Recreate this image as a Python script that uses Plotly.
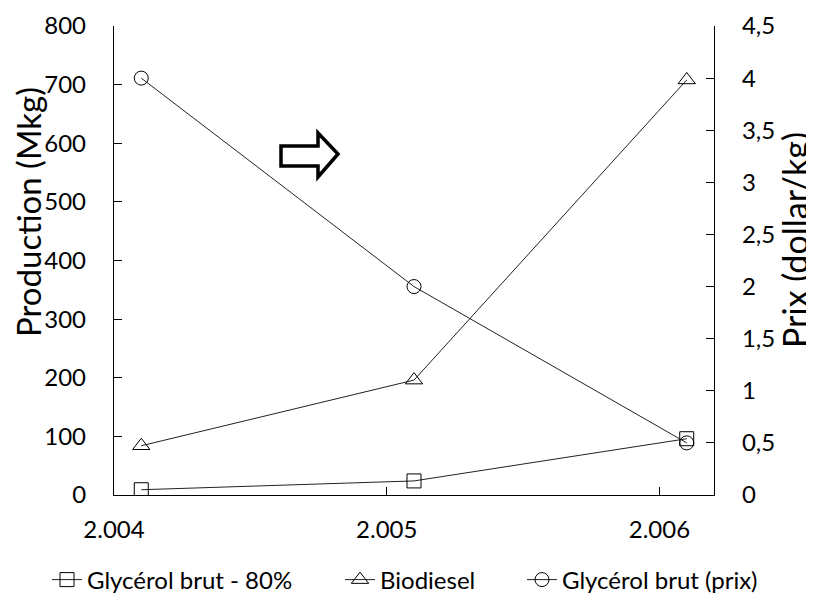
import plotly.graph_objects as go

# Data
years = [2004.1, 2005.1, 2006.1]
glycerol_prod = [9, 24, 96]        # Mkg, left axis
biodiesel_prod = [84, 196, 708]    # Mkg, left axis
glycerol_price = [4.0, 2.0, 0.5]   # dollar/kg, right axis

x_tickvals = [2004, 2005, 2006]
x_ticktext = ["2.004", "2.005", "2.006"]

FONT = "Lato"
OFF = 8  # page body margin in the browser
W, H = 814 - OFF, 595 - OFF
PL, PR, PT, PB = 114, 714, 26, 495  # plot area in screen pixels
L, T = PL - OFF, PT - OFF
R, B = W - (PR - OFF), H - (PB - OFF)
PW, PH = PR - PL, PB - PT

def px(x):
    return (x - PL) / PW

def py(y):
    return (PB - y) / PH

fig = go.Figure()
line_style = dict(color="#222222", width=1)
fig.add_trace(go.Scatter(x=years, y=glycerol_prod, name="Glycérol brut - 80%",
                         mode="lines+markers", line=line_style, legend="legend",
                         marker=dict(symbol="square-open", size=14, color="black", line=dict(width=1))))
fig.add_trace(go.Scatter(x=years, y=biodiesel_prod, name="Biodiesel",
                         mode="lines+markers", line=line_style, legend="legend2",
                         marker=dict(symbol="triangle-up-open", size=15, color="black", line=dict(width=1))))
fig.add_trace(go.Scatter(x=years, y=glycerol_price, name="Glycérol brut (prix)",
                         mode="lines+markers", line=line_style, yaxis="y2", legend="legend3",
                         marker=dict(symbol="circle-open", size=14, color="black", line=dict(width=1))))

axis_common = dict(showgrid=False, zeroline=False, showline=True, linecolor="black",
                   linewidth=1.3, ticks="inside", ticklen=8, tickcolor="black",
                   automargin=False,
                   tickfont=dict(family=FONT, size=24, color="black"))

def legend_at(text_x):
    return dict(orientation="h", xref="container", yref="container",
                x=(text_x - 40 - OFF) / W, xanchor="left",
                y=1 - (580 - OFF) / H, yanchor="middle",
                font=dict(family=FONT, size=24, color="black"),
                itemwidth=30, bgcolor="rgba(0,0,0,0)")

fig.update_layout(
    width=W, height=H,
    margin=dict(l=L, r=R, t=T, b=B, autoexpand=False),
    paper_bgcolor="white", plot_bgcolor="white",
    separators=",.",
    font=dict(family=FONT, color="black"),
    xaxis=dict(range=[2004, 2006.2], tickvals=x_tickvals, ticktext=x_ticktext,
               ticklabelstandoff=13, **axis_common),
    yaxis=dict(range=[0, 800], dtick=100, ticklabelstandoff=22, **axis_common),
    yaxis2=dict(range=[0, 4.5], dtick=0.5, overlaying="y", side="right",
                ticklabelstandoff=22, **axis_common),
    legend=legend_at(87),
    legend2=legend_at(380),
    legend3=legend_at(562),
    showlegend=True,
)

# Axis titles
fig.add_annotation(text="Production (Mkg)", xref="paper", yref="paper",
                   x=px(28), y=py(212), textangle=-90, showarrow=False,
                   font=dict(family=FONT, size=33, color="black"),
                   xanchor="center", yanchor="middle")
fig.add_annotation(text="Prix (dollar/kg)", xref="paper", yref="paper",
                   x=px(795), y=py(240), textangle=-90, showarrow=False,
                   font=dict(family=FONT, size=34, color="black"),
                   xanchor="center", yanchor="middle")

# Block arrow decoration
pts = [(281, 146), (318, 146), (318, 133), (338, 154), (318, 177), (318, 166), (281, 166)]
path = "M " + " L ".join(f"{px(x):.5f},{py(y):.5f}" for x, y in pts) + " Z"
fig.add_shape(type="path", path=path, xref="paper", yref="paper",
              line=dict(color="black", width=3.5), fillcolor="white")

fig.write_html("out.html")
